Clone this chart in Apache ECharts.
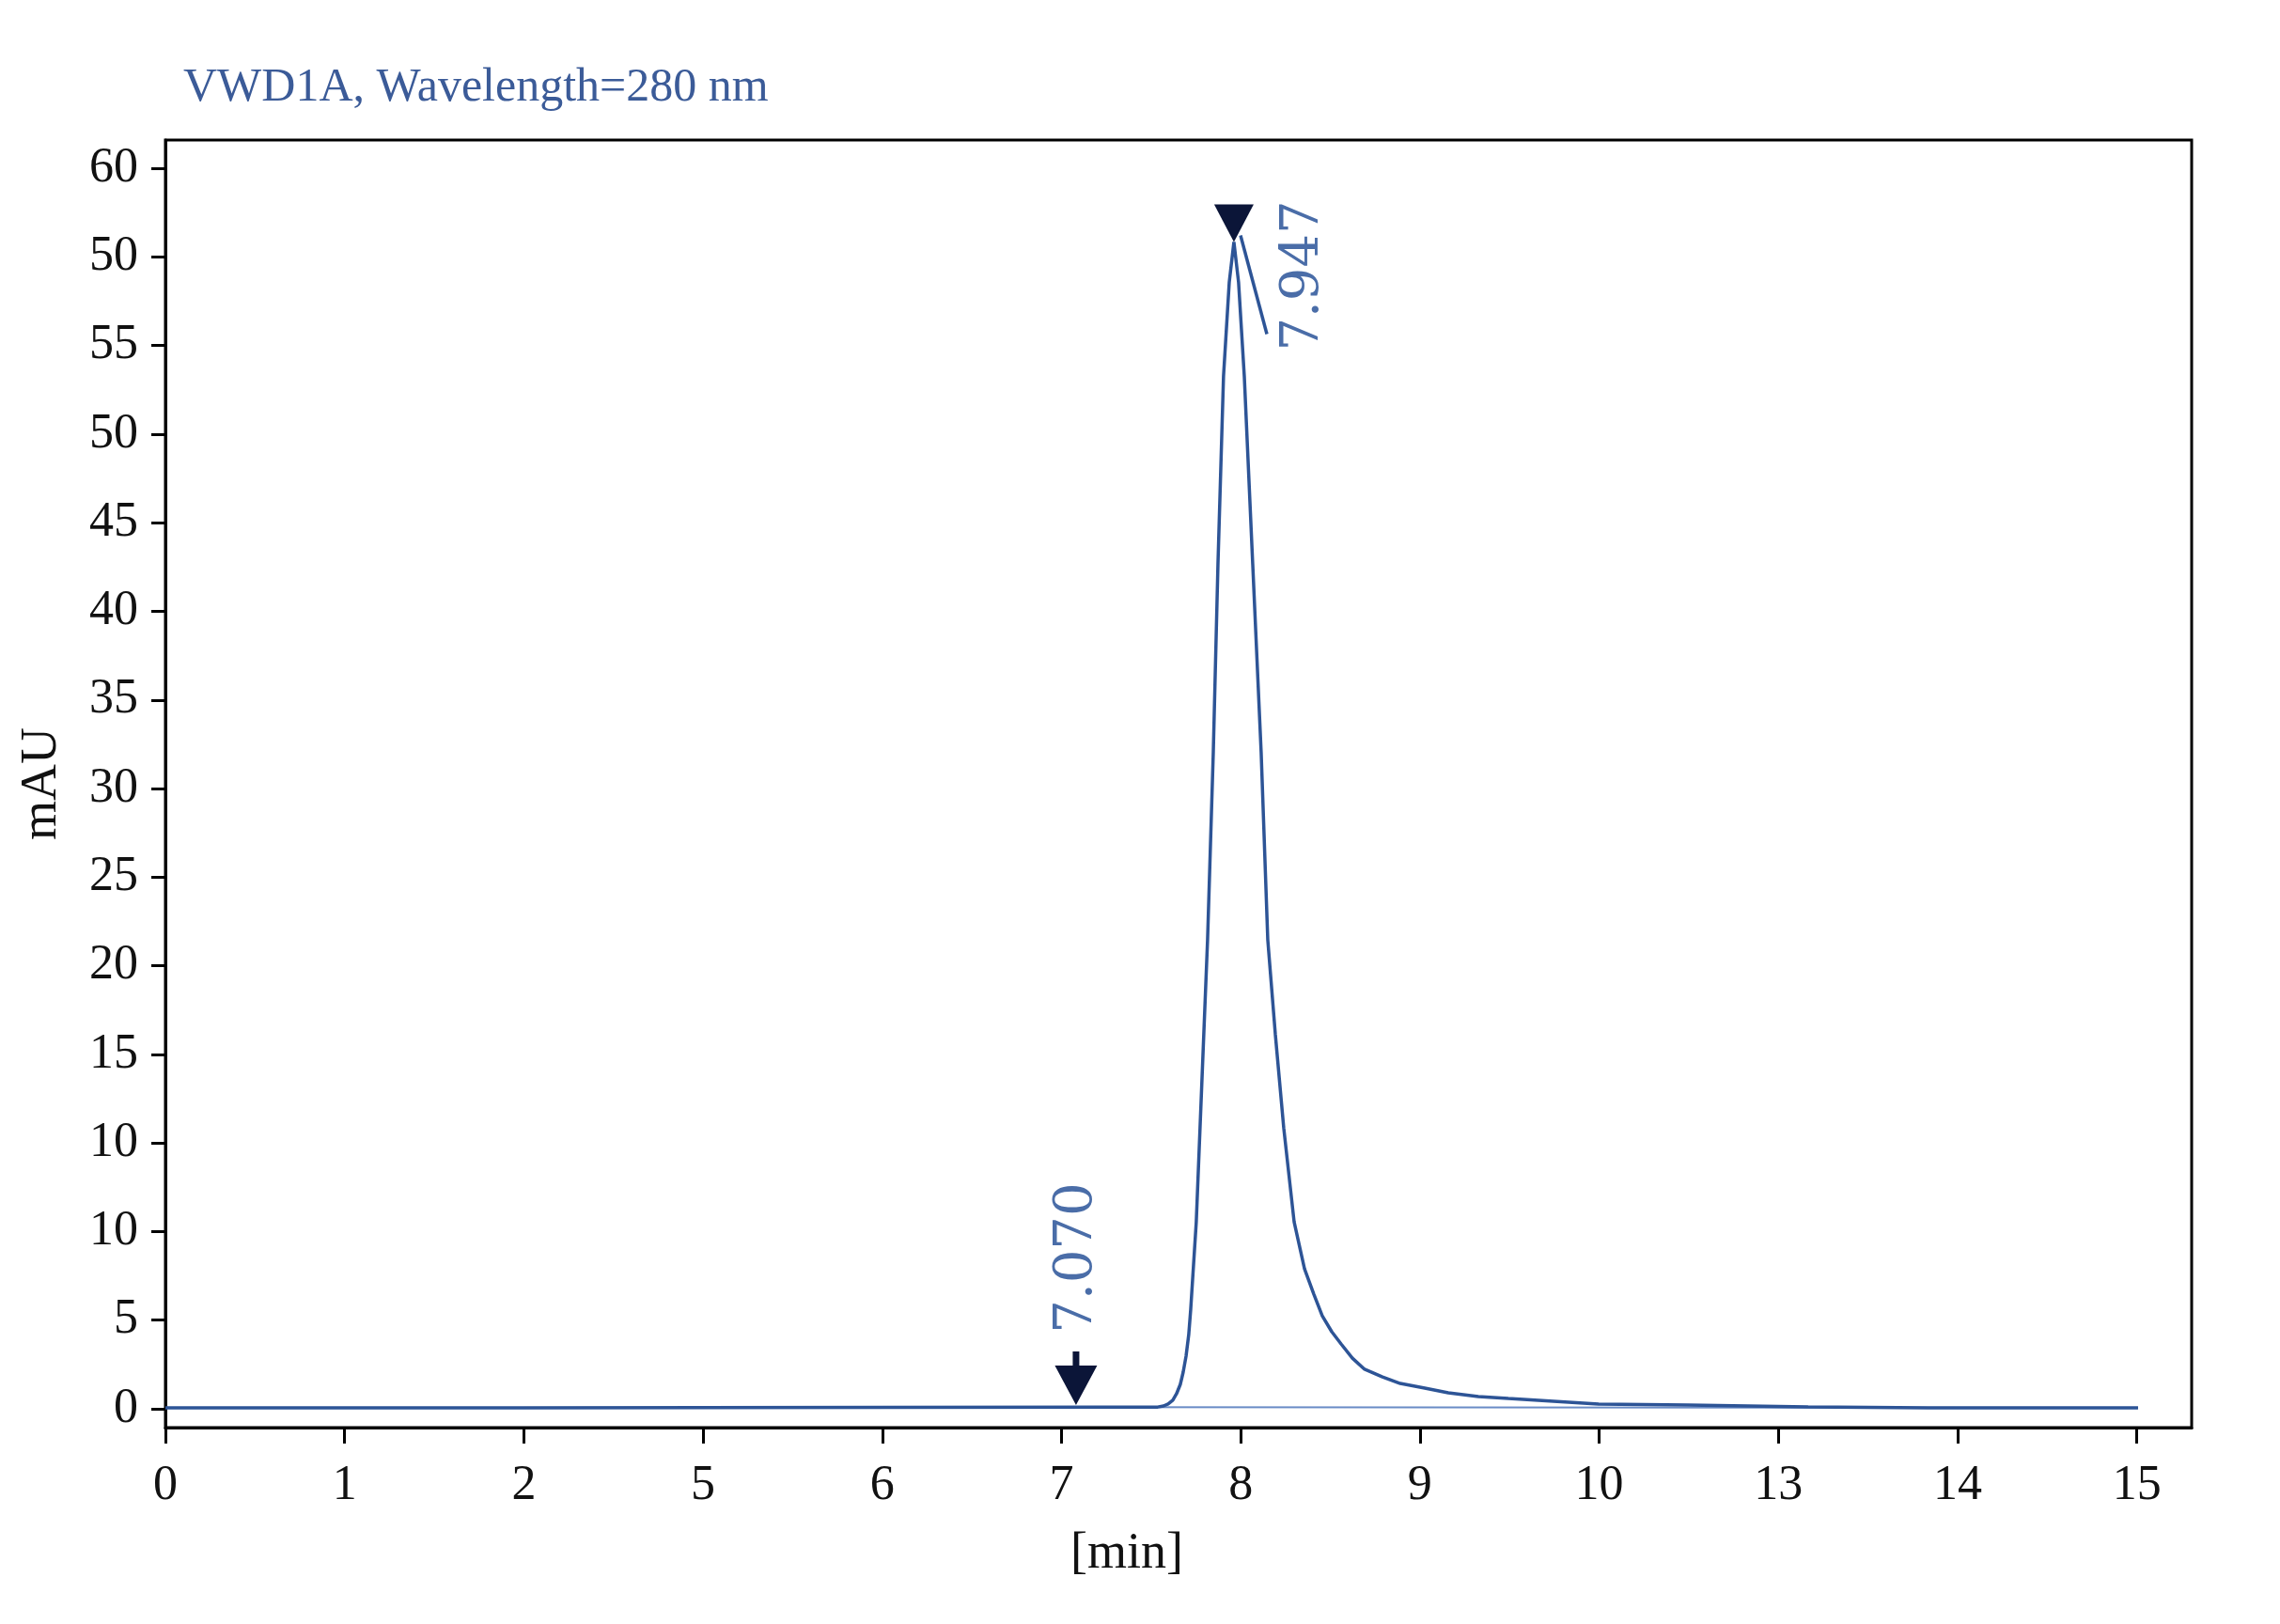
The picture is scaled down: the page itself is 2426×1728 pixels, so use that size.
<!DOCTYPE html>
<html>
<head>
<meta charset="utf-8">
<title>VWD1A chromatogram</title>
<script src="https://cdn.jsdelivr.net/npm/echarts@6/dist/echarts.min.js"></script>
<style>
  html, body { margin: 0; padding: 0; background: #fff; }
  #chart { width: 2426px; height: 1728px; }
</style>
</head>
<body>
<div id="chart"></div>
<script>
// tick positions on the plot and the text printed at them
const xTickValues = [0, 1, 2, 3, 4, 5, 6, 7, 8, 9, 10, 11];
const xTickLabels = ["0", "1", "2", "5", "6", "7", "8", "9", "10", "13", "14", "15"];
const yTickValues = [0, 5, 10, 15, 20, 25, 30, 35, 40, 45, 50, 55, 60, 65, 70];
const yTickLabels = ["0", "5", "10", "10", "15", "20", "25", "30", "35", "40", "45", "50", "55", "50", "60"];

// detector trace (x in plot minutes, y in mAU)
const signalTime = [0, 2, 4, 5.2, 5.537, 5.569, 5.595, 5.621, 5.642, 5.663, 5.679, 5.695, 5.71, 5.721, 5.752, 5.773,
  5.815, 5.847, 5.873, 5.904, 5.936, 5.962,
  5.988, 6.02, 6.067, 6.114, 6.151, 6.193, 6.24, 6.298, 6.356, 6.408, 6.455, 6.508, 6.56, 6.623, 6.691, 6.791, 6.89,
  7.027, 7.158, 7.326, 7.493, 7.997, 8.495, 9.166, 9.837, 11.007];
const signalAbs = [0.05, 0.06, 0.08, 0.1, 0.1, 0.16, 0.27, 0.48, 0.85, 1.38, 2.07, 2.97, 4.19, 5.62, 10.55, 15.85,
  26.46, 37.06, 47.66, 58.27, 63.57, 65.85,
  63.57, 58.27, 47.66, 37.06, 26.46, 21.15, 15.85, 10.55, 7.9, 6.47, 5.25, 4.35, 3.66, 2.86, 2.23, 1.8, 1.43,
  1.17, 0.9, 0.69, 0.58, 0.27, 0.21, 0.11, 0.05, 0.05];

// integration baseline
const baseTime = [5.081, 11.007];
const baseAbs = [0.1, 0.06];

// peak apex marker and its leader line
const peakTime = [5.962];
const peakAbs = [65.85];
const peakLabel = ["7.947"];
const leaderTime = [5.999, 6.146];
const leaderAbs = [66.22, 60.65];

// start-of-peak arrow
const startTime = [5.081];
const startAbs = [0.21];
const startLabel = ["7.070"];

const zip = (a, b) => a.map((v, i) => [v, b[i]]);

const tickFont = { fontFamily: "Liberation Serif", fontSize: 52, color: "#111" };
const annotColor = "#4a6da8";
const markerColor = "#0b1538";

const chart = echarts.init(document.getElementById("chart"));
chart.setOption({
  animation: false,
  backgroundColor: "#fff",
  title: {
    text: "VWD1A, Wavelength=280 nm",
    left: 190,
    top: 64,
    textStyle: { fontFamily: "Liberation Serif", fontSize: 50, fontWeight: "normal", color: "#3b5b98" },
  },
  grid: {
    left: 176, top: 149, width: 2156, height: 1370,
    show: true, borderColor: "#000", borderWidth: 3, backgroundColor: "transparent",
  },
  xAxis: {
    type: "value",
    min: 0,
    max: 11.306,
    name: "[min]",
    nameLocation: "middle",
    nameGap: 108,
    nameTextStyle: { fontFamily: "Liberation Serif", fontSize: 54, color: "#111", padding: [0, 110, 0, 0] },
    axisLine: { show: true, onZero: false, lineStyle: { color: "#000", width: 3 } },
    axisTick: { show: true, customValues: xTickValues, length: 17, lineStyle: { color: "#000", width: 3 } },
    axisLabel: {
      ...tickFont,
      customValues: xTickValues,
      margin: 36,
      formatter: (v) => xTickLabels[Math.round(v)],
    },
    splitLine: { show: false },
  },
  yAxis: {
    type: "value",
    min: -1.06,
    max: 71.6,
    name: "mAU",
    nameLocation: "middle",
    nameGap: 104,
    nameTextStyle: { fontFamily: "Liberation Serif", fontSize: 54, color: "#111" },
    axisLine: { show: true, onZero: false, lineStyle: { color: "#000", width: 3 } },
    axisTick: { show: true, customValues: yTickValues, length: 15, lineStyle: { color: "#000", width: 3 } },
    axisLabel: {
      ...tickFont,
      customValues: yTickValues,
      margin: 29,
      formatter: (v) => yTickLabels[Math.round(v / 5)],
    },
    splitLine: { show: false },
  },
  series: [
    {
      name: "baseline",
      type: "line",
      data: zip(baseTime, baseAbs),
      showSymbol: false,
      lineStyle: { color: "#6a8cc6", width: 2 },
      z: 2,
    },
    {
      name: "signal",
      type: "line",
      data: zip(signalTime, signalAbs),
      showSymbol: false,
      lineStyle: { color: "#2d5496", width: 3.5 },
      z: 3,
    },
    {
      name: "leader",
      type: "line",
      data: zip(leaderTime, leaderAbs),
      showSymbol: false,
      lineStyle: { color: "#2d5496", width: 3.5 },
      z: 4,
    },
    {
      name: "peak",
      type: "scatter",
      data: zip(peakTime, peakAbs),
      symbol: "triangle",
      symbolRotate: 180,
      symbolSize: [42, 40],
      symbolOffset: [0, -20],
      itemStyle: { color: markerColor, opacity: 1 },
      label: {
        show: true,
        formatter: (p) => peakLabel[p.dataIndex],
        position: "inside",
        rotate: 90,
        // offset is applied in the rotated frame
        offset: [-56, 75],
        fontFamily: "DejaVu Serif",
        fontSize: 56,
        color: annotColor,
      },
      z: 5,
    },
    {
      name: "start",
      type: "scatter",
      data: zip(startTime, startAbs),
      symbol: "path://M19,0 L26,0 L26,15 L45,15 L22.5,57 L0,15 L19,15 Z",
      symbolSize: [45, 57],
      symbolOffset: [0, -28.5],
      itemStyle: { color: markerColor, opacity: 1 },
      label: {
        show: true,
        formatter: (p) => startLabel[p.dataIndex],
        position: "inside",
        rotate: 90,
        offset: [128, 2],
        fontFamily: "DejaVu Serif",
        fontSize: 56,
        color: annotColor,
      },
      z: 5,
    },
  ],
});
</script>
</body>
</html>
